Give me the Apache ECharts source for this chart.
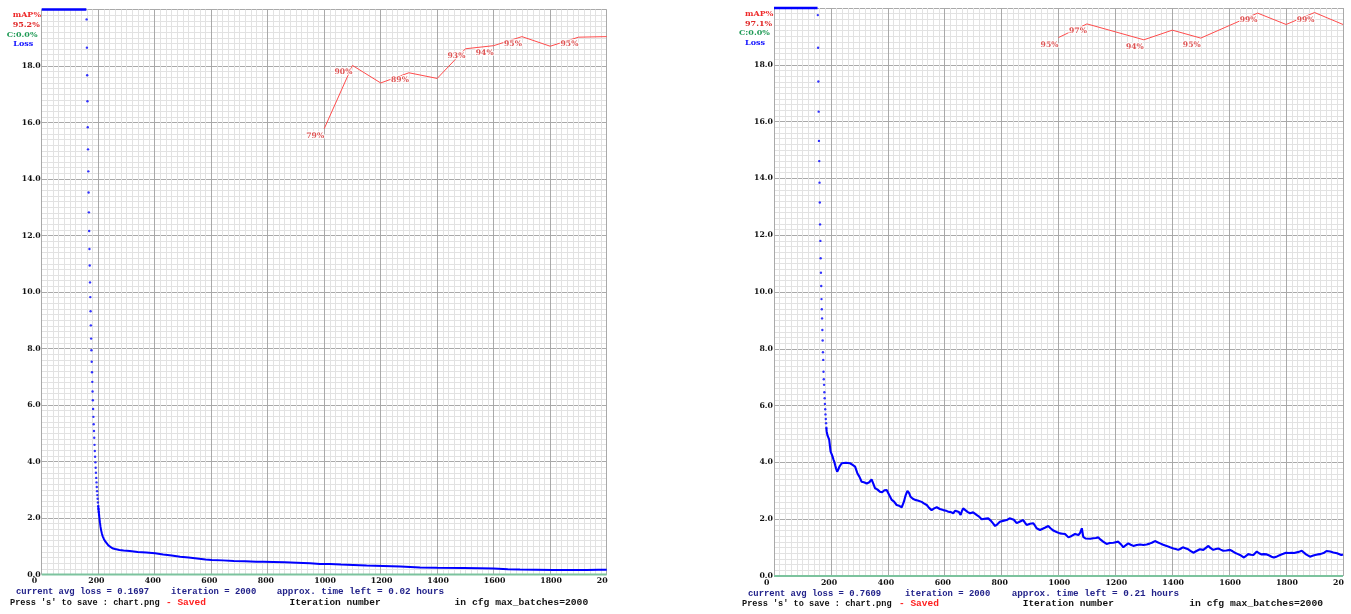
<!DOCTYPE html>
<html><head><meta charset="utf-8">
<script src="https://cdn.jsdelivr.net/npm/echarts@6/dist/echarts.min.js"></script>
<style>
html,body{margin:0;padding:0;background:#fff;width:1351px;height:614px;overflow:hidden}
.clip{position:absolute;top:0;height:614px;overflow:hidden}
.chart{position:absolute;left:0;top:0;width:680px;height:614px}
</style></head><body>
<div class="clip" style="left:0;width:608px"><div id="cL" class="chart"></div></div>
<div class="clip" style="left:730px;width:614px"><div id="cR" class="chart"></div></div>
<script>
// ---------- shared axis settings ----------
const xMax = 2000, xStep = 200;
const yMax = 20, yStep = 2;

// ---------- LEFT chart data ----------
const mapIterL  = [1000,1100,1200,1300,1400,1500,1600,1700,1800,1900,2000];
const mapValL   = [78.9,90.1,87.0,88.8,87.8,93.05,93.6,95.2,93.5,95.1,95.2];
const mapLabelL = [1,1,0,1,0,1,1,1,0,1,0];
const cIterL = [0,2000];
const cValL  = [0,0];
const lossClipIterL = [0,158];
const lossClipValL  = [20,20];
const lossDotIterL = [159,160,161,162,163,164,165,166,167,168,169,170,171,172,173,174,175,176,177,178,179,180,181,182,183,184,185,186,187,188,189,190,191,192,193,194,195,196,197,198,199,200,201,202,203];
const lossDotValL  = [19.65,18.65,17.67,16.75,15.83,15.05,14.27,13.52,12.82,12.16,11.52,10.94,10.34,9.82,9.32,8.82,8.35,7.94,7.53,7.16,6.82,6.48,6.17,5.86,5.58,5.32,5.08,4.84,4.59,4.37,4.17,3.97,3.78,3.60,3.42,3.26,3.10,2.95,2.81,2.68,2.55,2.43,2.32,2.21,2.11];
const lossIterL = [200,201,202,203,204,206,208,210,213,216,220,225,230,236,242,250,260,275,290,312,340,370,401,430,460,490,520,550,580,602,640,680,720,760,785,820,860,903,950,985,1020,1060,1103,1150,1209,1270,1339,1400,1492,1550,1599,1650,1693,1750,1811,1870,1929,1970,2000];
const lossValL  = [2.43,2.32,2.21,2.11,2.02,1.85,1.70,1.58,1.45,1.35,1.26,1.17,1.10,1.03,0.98,0.93,0.90,0.87,0.85,0.83,0.80,0.78,0.75,0.71,0.67,0.63,0.60,0.57,0.53,0.51,0.50,0.48,0.47,0.45,0.45,0.44,0.43,0.42,0.40,0.37,0.37,0.35,0.34,0.32,0.30,0.28,0.25,0.24,0.23,0.22,0.21,0.19,0.18,0.17,0.16,0.16,0.16,0.17,0.17];

// ---------- RIGHT chart data ----------
const mapIterR  = [1000,1100,1200,1300,1400,1500,1600,1700,1800,1900,2000];
const mapValR   = [94.8,97.2,95.8,94.4,96.1,94.7,96.9,99.1,97.1,99.2,97.1];
const mapLabelR = [1,1,0,1,0,1,0,1,0,1,0];
const cIterR = [0,2000];
const cValR  = [0,0];
const lossClipIterR = [0,153];
const lossClipValR  = [20,20];
const lossDotIterR = [154,155,156,157,158,159,160,161,162,163,164,165,166,167,168,169,170,171,172,173,174,175,176,177,178,179,180,181,182,183,184];
const lossDotValR  = [19.75,18.60,17.41,16.35,15.32,14.61,13.85,13.15,12.38,11.80,11.19,10.68,10.21,9.75,9.39,9.07,8.66,8.29,7.88,7.61,7.19,6.93,6.73,6.47,6.26,6.06,5.87,5.69,5.53,5.38,5.22];
const lossIterR = [184,185,188,191,194,197,199,203,206,209,212,215,218,222,226,230,238,245,253,260,267,275,285,293,300,308,316,326,335,343,349,355,363,372,380,388,396,405,414,422,431,440,449,456,463,469,475,480,488,496,505,512,519,528,537,545,554,563,572,583,595,605,613,622,630,637,644,650,656,661,665,672,680,689,700,712,722,730,736,745,753,762,770,777,785,794,800,808,818,828,835,843,853,865,876,882,888,900,911,917,923,935,941,952,964,972,982,993,1005,1014,1023,1035,1046,1058,1070,1076,1082,1084,1087,1095,1101,1112,1122,1131,1140,1148,1157,1163,1169,1180,1193,1201,1210,1219,1228,1236,1245,1254,1263,1275,1287,1298,1310,1320,1328,1339,1348,1357,1368,1380,1392,1404,1412,1421,1429,1437,1446,1456,1465,1474,1485,1497,1509,1518,1527,1535,1544,1553,1562,1570,1579,1590,1603,1612,1620,1629,1638,1645,1652,1659,1667,1676,1685,1691,1697,1705,1714,1722,1732,1741,1749,1757,1768,1779,1790,1800,1810,1820,1828,1835,1845,1855,1862,1870,1877,1884,1893,1902,1911,1920,1927,1934,1942,1949,1955,1961,1966,1972,1979,1986,1994,2000];
const lossValR  = [5.22,5.10,4.95,4.90,4.80,4.55,4.38,4.28,4.20,4.10,4.02,3.90,3.79,3.67,3.75,3.85,3.97,4.02,3.99,4.03,3.97,3.92,3.85,3.62,3.50,3.32,3.30,3.26,3.30,3.40,3.25,3.09,3.05,2.97,2.95,3.02,3.03,2.85,2.68,2.62,2.50,2.47,2.42,2.60,2.85,3.00,2.92,2.79,2.72,2.68,2.66,2.62,2.61,2.55,2.50,2.40,2.32,2.38,2.42,2.36,2.32,2.30,2.26,2.25,2.21,2.30,2.35,2.25,2.15,2.30,2.38,2.33,2.26,2.21,2.24,2.15,2.08,2.00,1.97,2.02,2.03,1.95,1.85,1.76,1.82,1.91,1.91,1.95,1.97,2.03,2.07,1.98,1.86,1.92,1.97,1.88,1.80,1.84,1.86,1.78,1.68,1.62,1.64,1.70,1.76,1.68,1.60,1.55,1.50,1.49,1.48,1.36,1.41,1.48,1.44,1.52,1.68,1.62,1.38,1.32,1.29,1.31,1.33,1.34,1.36,1.28,1.21,1.17,1.13,1.16,1.17,1.19,1.21,1.12,1.01,1.08,1.15,1.10,1.06,1.09,1.11,1.09,1.11,1.14,1.17,1.23,1.19,1.15,1.10,1.06,1.01,0.97,0.95,0.92,0.96,1.01,0.98,0.94,0.88,0.82,0.88,0.94,0.92,0.99,1.06,0.98,0.92,0.95,0.97,0.93,0.89,0.90,0.92,0.87,0.82,0.78,0.74,0.70,0.65,0.71,0.77,0.75,0.74,0.80,0.86,0.80,0.76,0.77,0.76,0.72,0.68,0.65,0.69,0.74,0.78,0.82,0.81,0.82,0.81,0.80,0.85,0.89,0.83,0.76,0.72,0.68,0.71,0.74,0.76,0.77,0.79,0.82,0.88,0.94,0.86,0.80,0.83,0.86,0.80,0.74,0.74,0.76];

const avgLossL = '0.1697', avgLossR = '0.7609';
const timeLeftL = '0.02', timeLeftR = '0.21';
const contrL = 'C:0.0%', contrR = 'C:0.0%';

const pairs = (xs, ys) => xs.map((x, i) => [x, ys[i]]);
const SERIF = 'DejaVu Serif';
const MONO = '"Liberation Mono"';

function txt(x, y, text, color, size, family) {
  return {type:'text', x:x, y:y, silent:true, z:100,
    style:{text:text, fill:color, font:'bold ' + size + 'px ' + family, textVerticalAlign:'middle'}};
}

function buildOption(d) {
  const labelPts = d.mapIter.map((x, i) => d.mapLabel[i] ? [x, d.mapVal[i]] : null).filter(Boolean);
  const tickLabel = {color:'#111', fontFamily:SERIF, fontWeight:'bold', fontSize:7.8};
  const major = {show:true, lineStyle:{color:'#a9a9a9', width:1}};
  const minor = {show:true, lineStyle:{color:'#e2e2e2', width:1}};
  return {
    animation:false,
    backgroundColor:'#fff',
    grid:{left:d.gl, top:d.gt, width:d.gw, height:d.gh, containLabel:false},
    xAxis:{type:'value', min:0, max:xMax, interval:xStep,
      axisLine:{show:false}, axisTick:{show:false},
      axisLabel:Object.assign({margin:d.xm, align:'left', padding:[0,0,0,-10], formatter:v => String(v)}, tickLabel),
      splitLine:major, minorTick:{show:false, splitNumber:10}, minorSplitLine:minor},
    yAxis:[
      {type:'value', min:0, max:yMax, interval:yStep,
        axisLine:{show:false}, axisTick:{show:false},
        axisLabel:Object.assign({margin:1, showMaxLabel:false, formatter:v => v.toFixed(1)}, tickLabel),
        splitLine:major, minorTick:{show:false, splitNumber:10}, minorSplitLine:minor},
      {type:'value', min:0, max:100, show:false}
    ],
    series:[
      {type:'line', name:'C', yAxisIndex:1, data:pairs(d.cIter, d.cVal), symbol:'none',
        lineStyle:{color:'#7cc39e', width:2}, clip:false, z:3, silent:true},
      {type:'line', name:'mAP', yAxisIndex:1, data:pairs(d.mapIter, d.mapVal), symbol:'none',
        lineStyle:{color:'#ff4c4c', width:1}, z:4, silent:true},
      {type:'scatter', name:'mAP labels', yAxisIndex:1, data:labelPts, symbolSize:1,
        itemStyle:{color:'rgba(0,0,0,0)'}, z:6, silent:true,
        label:{show:true, position:'inside', offset:[-9,7], formatter:p => Math.round(p.value[1]) + '%',
          color:'#d62a2a', fontFamily:SERIF, fontWeight:'bold', fontSize:7.6,
          textBorderColor:'#fff', textBorderWidth:2.5}},
      {type:'line', name:'Loss clipped', data:pairs(d.clipIter, d.clipVal), symbol:'none',
        lineStyle:{color:'#0000ff', width:2.5}, clip:false, z:5, silent:true},
      {type:'scatter', name:'Loss dots', data:pairs(d.dotIter, d.dotVal), symbolSize:2.4,
        itemStyle:{color:'#0000ff'}, z:5, silent:true},
      {type:'line', name:'Loss', data:pairs(d.lossIter, d.lossVal), symbol:'none',
        lineStyle:{color:'#0000ff', width:d.lw}, z:5, silent:true}
    ],
    graphic:d.texts
  };
}

const lastMapL = mapValL[mapValL.length - 1].toFixed(1) + '%';
const lastMapR = mapValR[mapValR.length - 1].toFixed(1) + '%';

const optL = buildOption({
  gl:41.7, gt:9.5, gw:565, gh:565, xm:2.5, lw:2,
  mapIter:mapIterL, mapVal:mapValL, mapLabel:mapLabelL, cIter:cIterL, cVal:cValL,
  clipIter:lossClipIterL, clipVal:lossClipValL, dotIter:lossDotIterL, dotVal:lossDotValL,
  lossIter:lossIterL, lossVal:lossValL,
  texts:[
    txt(12.7, 15, 'mAP%', '#ee2a2a', 8, SERIF),
    txt(12.7, 24.5, lastMapL, '#e02828', 8, SERIF),
    txt(6.7, 34.5, contrL, '#1f9a55', 8, SERIF),
    txt(13.3, 44, 'Loss', '#1010ff', 8, SERIF),
    txt(16, 592, 'current avg loss = ' + avgLossL, '#22228a', 8.9, MONO),
    txt(171, 592, 'iteration = 2000', '#22228a', 8.9, MONO),
    txt(276.7, 592, 'approx. time left = ' + timeLeftL + ' hours', '#22228a', 9.3, MONO),
    txt(10, 602.5, "Press 's' to save : chart.png", '#111', 8.6, MONO),
    txt(166, 602.5, '- Saved', '#ff2020', 9.5, MONO),
    txt(289.5, 602.5, 'Iteration number', '#111', 9.5, MONO),
    txt(454.5, 602.5, 'in cfg max_batches=2000', '#111', 9.7, MONO)
  ]
});

const optR = buildOption({
  gl:44, gt:8, gw:569, gh:568, xm:3, lw:2.1,
  mapIter:mapIterR, mapVal:mapValR, mapLabel:mapLabelR, cIter:cIterR, cVal:cValR,
  clipIter:lossClipIterR, clipVal:lossClipValR, dotIter:lossDotIterR, dotVal:lossDotValR,
  lossIter:lossIterR, lossVal:lossValR,
  texts:[
    txt(15, 14, 'mAP%', '#ee2a2a', 8, SERIF),
    txt(15, 23.5, lastMapR, '#e02828', 8, SERIF),
    txt(9, 33, contrR, '#1f9a55', 8, SERIF),
    txt(15, 42.5, 'Loss', '#1010ff', 8, SERIF),
    txt(18, 593.3, 'current avg loss = ' + avgLossR, '#22228a', 8.9, MONO),
    txt(175, 593.3, 'iteration = 2000', '#22228a', 8.9, MONO),
    txt(281.7, 593.3, 'approx. time left = ' + timeLeftR + ' hours', '#22228a', 9.3, MONO),
    txt(12, 604, "Press 's' to save : chart.png", '#111', 8.6, MONO),
    txt(169, 604, '- Saved', '#ff2020', 9.5, MONO),
    txt(292.7, 604, 'Iteration number', '#111', 9.5, MONO),
    txt(459.3, 604, 'in cfg max_batches=2000', '#111', 9.7, MONO)
  ]
});

echarts.init(document.getElementById('cL'), null, {renderer:'canvas'}).setOption(optL);
echarts.init(document.getElementById('cR'), null, {renderer:'canvas'}).setOption(optR);
</script>
</body></html>
